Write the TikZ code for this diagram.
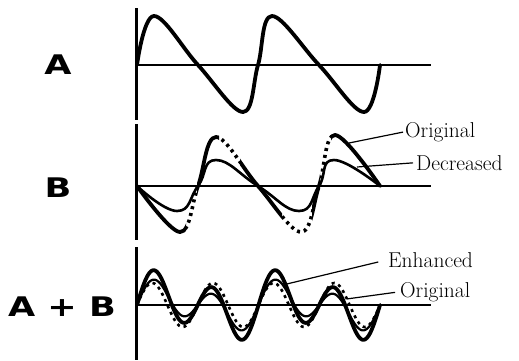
\documentclass[tikz,border=0pt]{standalone}
\usepackage{fontspec}
\newfontfamily\panelfont{DejaVu Sans}
\usetikzlibrary{positioning}
\tikzset{
  vaxis/.style={line width=3pt},
  haxis/.style={line width=2pt},
  wavethick/.style={line width=3.8pt, line cap=round, line join=round},
  wavemid/.style={line width=2.6pt, line join=round},
  wavethin/.style={line width=2.2pt, line join=round},
  wavedash/.style={line width=3.6pt, dash pattern=on 3pt off 4pt},
  wavedot/.style={line width=2.6pt, dash pattern=on 3pt off 4pt},
  pointer/.style={line width=1.2pt},
  curvelabel/.style={font=\fontsize{21.5}{24}\selectfont, anchor=base west, inner sep=0pt},
  panel/.style={font=\panelfont\bfseries\fontsize{27}{30}\selectfont, xscale=1.3, inner sep=0pt}
}
\begin{document}
\begin{tikzpicture}[x=1pt, y=-1pt]
\useasboundingbox (0,0) rectangle (519,360);
% axes
\draw[vaxis] (136,8) -- (136,120);
\draw[vaxis] (136,124) -- (136,240);
\draw[vaxis] (136,247) -- (136,360);
\draw[haxis] (136,65) -- (431,65);
\draw[haxis] (136,186) -- (431,186);
\draw[haxis] (136,305) -- (431,305);

% panel labels
\node[panel] (labA) at (58,65) {A};
\node[panel] (labB) at (58,188) {B};
\node[panel] (labAB) at (62,307) {A + B};

% wave A
\draw[wavethick] plot[smooth, tension=0.62] coordinates {(137,65) (154,16) (198,65) (243,112)
  (258,65) (272,16) (319,65) (364,112) (380,65)};

% wave B: decreased
\draw[wavemid] plot[smooth, tension=0.8] coordinates {(137,186) (177,211) (198,186) (216,160)
  (258,186) (299,211) (319,186) (334,160) (380,186)};
% wave B: original, solid parts
\begin{scope}
  \clip (125,120) rectangle (186,245) (197,120) rectangle (219,245) (240,120) rectangle (282,245)
    (312,120) rectangle (320,245) (331,120) rectangle (390,245);
  \draw[wavethick] plot[smooth, tension=0.62] coordinates {(137,186) (180,232) (198,186) (216,137)
    (258,186) (301,232) (319,186) (335,135) (380,186)};
\end{scope}
% wave B: original, broken parts
\begin{scope}
  \clip (186,120) rectangle (197,245) (219,120) rectangle (240,245) (282,120) rectangle (312,245)
    (320,120) rectangle (331,245);
  \draw[wavedash] plot[smooth, tension=0.62] coordinates {(137,186) (180,232) (198,186) (216,137)
    (258,186) (301,232) (319,186) (335,135) (380,186)};
\end{scope}

% wave A+B
\draw[wavethin] plot[domain=0:720, samples=241] ({137+0.3375*\x}, {305-(18*sin(2*\x)+10*sin(\x))});
\draw[wavedot] plot[domain=0:720, samples=241] ({137+0.3375*\x}, {305-22*sin(2*\x)});
\draw[wavethick] plot[domain=0:720, samples=241] ({137+0.3375*\x}, {305-(26*sin(2*\x)+12*sin(\x))});

% pointer ends on the curves
\coordinate (pBorig) at (349,143);
\coordinate (pBdec) at (357,167);
\coordinate (pEnh) at ({137+0.3375*440}, {305-(26*sin(880)+12*sin(440))});
\coordinate (pOrig) at ({137+0.3375*622}, {305-22*sin(1244)});

% curve labels
\node[curvelabel] (lBorig) at (405,137) {Original};
\node[curvelabel] (lBdec) at (416,170) {Decreased};
\node[curvelabel] (lEnh) at (388,267) {Enhanced};
\node[curvelabel] (lOrig) at (400,297) {Original};
\draw[pointer, shorten >=2pt] (pBorig) -- (lBorig.west);
\draw[pointer, shorten >=3pt] (pBdec) -- (lBdec.west);
\draw[pointer, shorten >=10pt] (pEnh) -- (lEnh.west);
\draw[pointer, shorten >=5pt] (pOrig) -- (lOrig.west);
\end{tikzpicture}
\end{document}
